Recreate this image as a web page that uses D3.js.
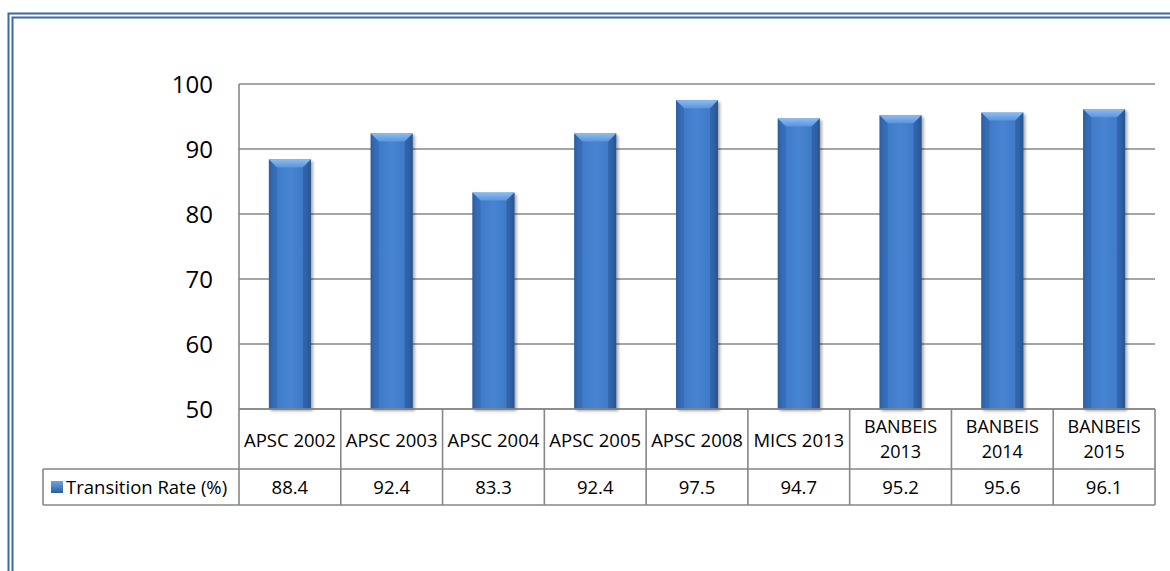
<!DOCTYPE html>
<html><head><meta charset="utf-8">
<script src="https://cdn.jsdelivr.net/npm/d3@7"></script>
<style>body{margin:0;background:#fff;} svg{display:block;font-family:"Open Sans",Lato,sans-serif;}</style>
</head><body>
<svg id="c" width="1170" height="571"></svg>
<script>
const categories = [["APSC 2002"],["APSC 2003"],["APSC 2004"],["APSC 2005"],["APSC 2008"],["MICS 2013"],["BANBEIS","2013"],["BANBEIS","2014"],["BANBEIS","2015"]];
const values = [88.4, 92.4, 83.3, 92.4, 97.5, 94.7, 95.2, 95.6, 96.1];
const yTicks = [50, 60, 70, 80, 90, 100];
const seriesName = "Transition Rate (%)";

const svg = d3.select("#c");
const L = 239, R = 1155, T = 84, B = 409;
const row1B = 469, row2B = 505, legL = 43;
const x = d3.scaleBand().domain(d3.range(categories.length)).range([L, R]).paddingInner(0).paddingOuter(0);
const y = d3.scaleLinear().domain([50, 100]).range([B, T]);

// frame
const fr = svg.append("g").attr("fill","none").attr("stroke","#3c6aa0");
fr.append("path").attr("d","M8.5,571 V13.5 H1170").attr("stroke-width",2);
fr.append("path").attr("d","M12.5,571 V17.5 H1170").attr("stroke-width",2);

const defs = svg.append("defs");
const g1 = defs.append("linearGradient").attr("id","bg").attr("x1","0").attr("x2","1").attr("y1","0").attr("y2","0");
[[0,"#2c5c9c"],[0.12,"#3d78c6"],[0.5,"#4784d2"],[0.88,"#3d78c6"],[1,"#2a5894"]].forEach(s=>g1.append("stop").attr("offset",s[0]).attr("stop-color",s[1]));
const g2 = defs.append("linearGradient").attr("id","tg").attr("x1","0").attr("x2","0").attr("y1","0").attr("y2","1");
[[0,"#8cbcf0"],[1,"#5a94dc"]].forEach(s=>g2.append("stop").attr("offset",s[0]).attr("stop-color",s[1]));
const flt = defs.append("filter").attr("id","sh").attr("x","-20%").attr("y","-5%").attr("width","150%").attr("height","115%");
flt.append("feGaussianBlur").attr("in","SourceAlpha").attr("stdDeviation",1.5);
flt.append("feOffset").attr("dx",1.5).attr("dy",1.5).attr("result","ob");
flt.append("feComponentTransfer").append("feFuncA").attr("type","linear").attr("slope",0.35);
const fm = flt.append("feMerge"); fm.append("feMergeNode"); fm.append("feMergeNode").attr("in","SourceGraphic");

// gridlines
svg.append("g").selectAll("line").data(yTicks).join("line")
  .attr("x1",L).attr("x2",R).attr("y1",d=>y(d)).attr("y2",d=>y(d))
  .attr("stroke","#878787").attr("stroke-width",1.6);
svg.append("line").attr("x1",L).attr("x2",L).attr("y1",T).attr("y2",B).attr("stroke","#878787").attr("stroke-width",1.6);

// y axis labels
svg.append("g").selectAll("text").data(yTicks).join("text")
  .attr("x",213).attr("y",d=>y(d)).attr("dy","0.36em").attr("text-anchor","end")
  .attr("font-size",24).attr("fill","#000").text(d=>d);

// bars
const bw = 42, bev = 8;
const bars = svg.append("g").selectAll("g").data(values).join("g").attr("filter","url(#sh)");
bars.each(function(v,i){
  const g = d3.select(this);
  const cx = x(i)+x.bandwidth()/2, x0 = cx-bw/2, x1 = cx+bw/2, yt = y(v);
  g.append("rect").attr("x",x0).attr("y",yt).attr("width",bw).attr("height",B-yt).attr("fill","url(#bg)");
  g.append("path").attr("d",`M${x0},${yt} H${x1} L${x1-bev},${yt+bev} H${x0+bev} Z`).attr("fill","url(#tg)");
  g.append("path").attr("d",`M${x0},${yt} L${x0+bev},${yt+bev} V${B} H${x0} Z`).attr("fill","#2e62a6").attr("opacity",0.5);
  g.append("path").attr("d",`M${x1},${yt} L${x1-bev},${yt+bev} V${B} H${x1} Z`).attr("fill","#23508e").attr("opacity",0.5);
});

// table
const tg = svg.append("g").attr("stroke","#878787").attr("stroke-width",1.6).attr("fill","none");
tg.append("path").attr("d",`M${L},${B} V${row2B} M${R},${B} V${row2B} M${L},${row1B} H${R} M${legL},${row1B} H${L} M${legL},${row2B} H${R} M${legL},${row1B} V${row2B} M${L},${B} H${R}`);
tg.selectAll("line").data(d3.range(1,categories.length)).join("line")
  .attr("x1",i=>x(i)).attr("x2",i=>x(i)).attr("y1",B).attr("y2",row2B);

const fs = 18.5;
const ct = svg.append("g").attr("font-size",fs).attr("fill","#000").attr("text-anchor","middle");
categories.forEach((c,i)=>{
  const cx = x(i)+x.bandwidth()/2;
  const mid = (B+row1B)/2;
  if(c.length===1){ ct.append("text").attr("x",cx).attr("y",mid+1).attr("dy","0.36em").text(c[0]); }
  else { c.forEach((s,k)=>ct.append("text").attr("x",cx).attr("y",mid+(k-0.5)*25.5).attr("dy","0.36em").attr("font-size",18).text(s)); }
});
ct.selectAll(null).data(values).join("text")
  .attr("x",(d,i)=>x(i)+x.bandwidth()/2).attr("y",(row1B+row2B)/2).attr("dy","0.36em").text(d=>d.toFixed(1));

// legend cell
const ly = (row1B+row2B)/2;
const gk = defs.append("linearGradient").attr("id","kg").attr("x1","0").attr("x2","0").attr("y1","0").attr("y2","1");
[[0,"#6fa3e0"],[1,"#2c5c9c"]].forEach(s=>gk.append("stop").attr("offset",s[0]).attr("stop-color",s[1]));
svg.append("rect").attr("x",51).attr("y",ly-6).attr("width",12).attr("height",12).attr("fill","url(#kg)");
svg.append("text").attr("x",66).attr("y",ly).attr("dy","0.36em").attr("font-size",fs).text(seriesName);
</script>
</body></html>
